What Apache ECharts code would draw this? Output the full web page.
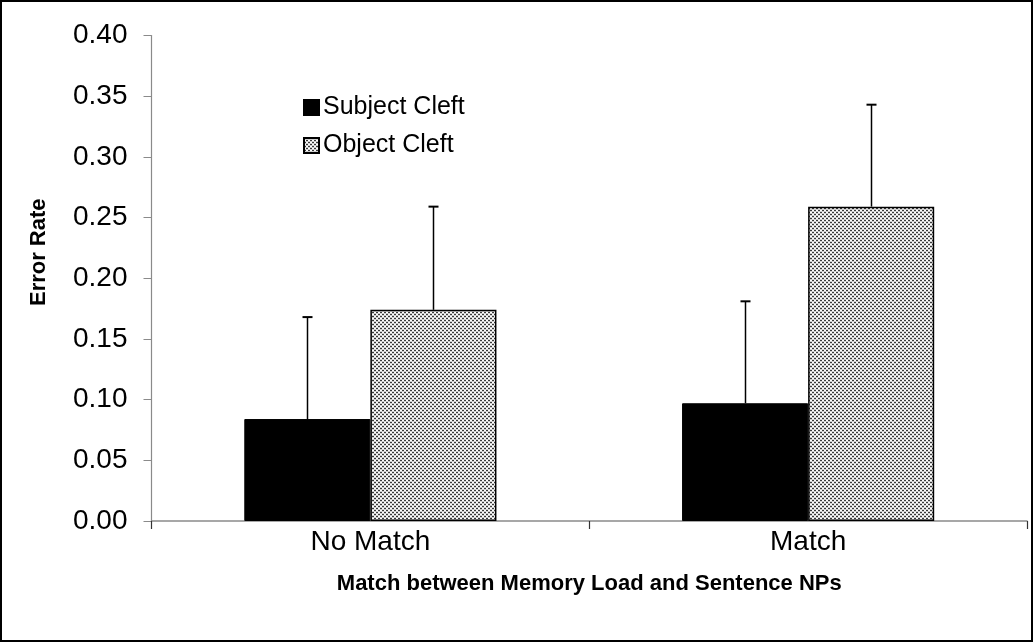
<!DOCTYPE html>
<html>
<head>
<meta charset="utf-8">
<script src="https://cdn.jsdelivr.net/npm/echarts@6/dist/echarts.min.js"></script>
<style>
html,body{margin:0;padding:0;background:#fff;}
#chart{width:1034px;height:643px;}
</style>
</head>
<body>
<div id="chart"></div>
<script>
const categories = ['No Match', 'Match'];
const subjectCleft = [0.084, 0.097];
const objectCleft = [0.174, 0.259];
const subjectErr = [0.084, 0.084];
const objectErr = [0.085, 0.084];
const yTicks = [0, 0.05, 0.10, 0.15, 0.20, 0.25, 0.30, 0.35, 0.40];

// dotted pattern for Object Cleft
const pc = document.createElement('canvas');
pc.width = 4; pc.height = 4;
const g = pc.getContext('2d');
g.fillStyle = '#ffffff'; g.fillRect(0, 0, 4, 4);
g.fillStyle = '#cfcfcf'; g.fillRect(0, 1, 4, 1); g.fillRect(0, 3, 4, 1);
g.fillStyle = '#3a3a3a';
g.fillRect(0, 0, 2, 1); g.fillRect(2, 2, 2, 1);
const pattern = { image: pc, repeat: 'repeat' };

const BAR_FRAC = 0.288;
const FONT = 'Liberation Sans, Arial, sans-serif';

function errSeries(values, errs, side) {
  return {
    type: 'custom',
    name: side < 0 ? 'errS' : 'errO',
    silent: true,
    z: 1,
    data: values.map((v, i) => [i, v, v + errs[i]]),
    renderItem: function (params, api) {
      const band = api.size([1, 0])[0];
      const off = side * band * BAR_FRAC / 2;
      const p0 = api.coord([api.value(0), api.value(1)]);
      const p1 = api.coord([api.value(0), api.value(2)]);
      const x = Math.round(p0[0] + off) + 0.5;
      return {
        type: 'group',
        children: [
          { type: 'line', shape: { x1: x, y1: p0[1], x2: x, y2: p1[1] }, style: { stroke: '#000', lineWidth: 1.5 } },
          { type: 'line', shape: { x1: x - 5, y1: p1[1], x2: x + 5, y2: p1[1] }, style: { stroke: '#000', lineWidth: 2 } }
        ]
      };
    }
  };
}

const chart = echarts.init(document.getElementById('chart'), null, { renderer: 'canvas' });
chart.setOption({
  backgroundColor: '#fff',
  animation: false,
  textStyle: { fontFamily: FONT },
  graphic: [{
    type: 'rect', silent: true, z: 100,
    shape: { x: 1, y: 1, width: 1031, height: 640 },
    style: { fill: 'none', stroke: '#000', lineWidth: 2 }
  }],
  grid: { left: 151.5, right: 7, top: 35.5, bottom: 122, containLabel: false },
  legend: {
    orient: 'vertical',
    left: 298, top: 90,
    icon: 'rect',
    itemWidth: 15, itemHeight: 15, itemGap: 13,
    data: ['Subject Cleft', 'Object Cleft'],
    textStyle: { fontFamily: FONT, fontSize: 25, color: '#000', padding: [0, 0, 0, -1] }
  },
  xAxis: {
    type: 'category',
    data: categories,
    boundaryGap: true,
    axisLine: { lineStyle: { color: '#8a8a8a', width: 1.5 } },
    axisTick: { show: true, length: 8, inside: false, alignWithLabel: false, lineStyle: { color: '#333', width: 1.2 } },
    axisLabel: { fontFamily: FONT, fontSize: 28, color: '#000', margin: 7 },
    name: 'Match between Memory Load and Sentence NPs',
    nameLocation: 'middle',
    nameGap: 52,
    nameTextStyle: { fontFamily: FONT, fontSize: 22, fontWeight: 'bold', color: '#000' }
  },
  yAxis: {
    type: 'value',
    min: 0, max: 0.40, interval: 0.05,
    axisLine: { show: true, lineStyle: { color: '#8a8a8a', width: 1.2 } },
    axisTick: { show: true, length: 8, lineStyle: { color: '#8a8a8a', width: 1 } },
    splitLine: { show: false },
    axisLabel: {
      fontFamily: FONT, fontSize: 28, color: '#000', margin: 24,
      formatter: function (v) {
        const t = yTicks.find(x => Math.abs(x - v) < 1e-9);
        return (t !== undefined ? t : v).toFixed(2);
      }
    },
    name: 'Error Rate',
    nameLocation: 'middle',
    nameGap: 102,
    nameTextStyle: { fontFamily: FONT, fontSize: 22, fontWeight: 'bold', color: '#000', padding: [0, 0, 0, 52] }
  },
  series: [
    {
      name: 'Subject Cleft', type: 'bar', data: subjectCleft,
      barWidth: (BAR_FRAC * 100) + '%', barGap: '0%',
      itemStyle: { color: '#000', borderColor: '#000', borderWidth: 1 },
      z: 2
    },
    {
      name: 'Object Cleft', type: 'bar', data: objectCleft,
      barWidth: (BAR_FRAC * 100) + '%', barGap: '0%',
      itemStyle: { color: pattern, borderColor: '#000', borderWidth: 1.5 },
      z: 2
    },
    errSeries(subjectCleft, subjectErr, -1),
    errSeries(objectCleft, objectErr, 1)
  ]
});
</script>
</body>
</html>
